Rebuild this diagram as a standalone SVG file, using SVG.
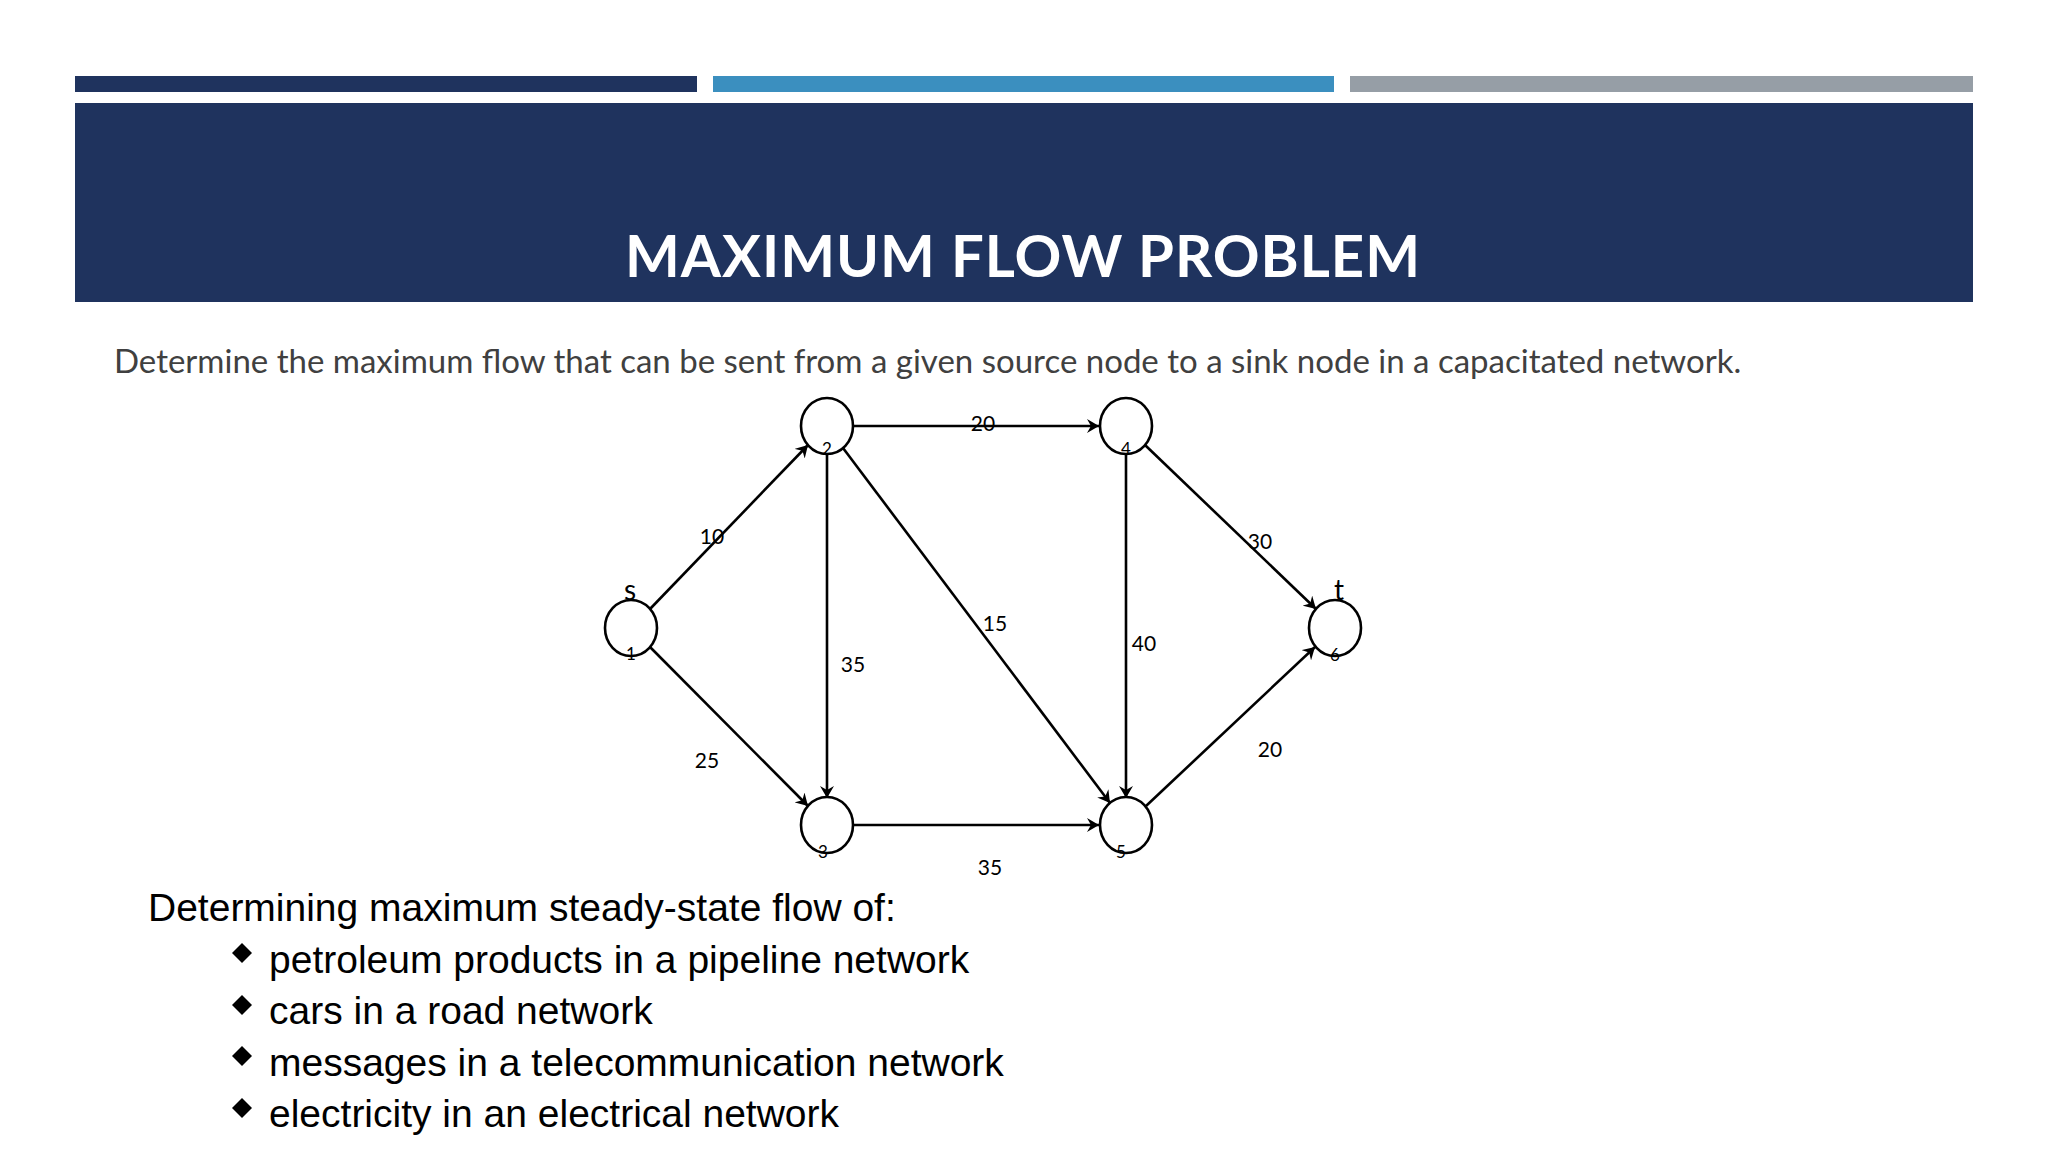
<svg xmlns="http://www.w3.org/2000/svg" width="2048" height="1152" viewBox="0 0 2048 1152">
<style>
.n{fill:#fff;stroke:#000;stroke-width:2.6}
.e{stroke:#000;stroke-width:2.6;fill:none;marker-end:url(#a)}
.l{font-family:Lato,"Liberation Sans",sans-serif;font-size:21px;fill:#000;text-anchor:middle}
.k{font-family:Lato,"Liberation Sans",sans-serif;font-size:17px;fill:#000;text-anchor:middle}
.b{font-family:"Liberation Sans",Arial,sans-serif;font-size:39px;fill:#000}
</style>
<defs><marker id="a" markerWidth="14" markerHeight="14" refX="12" refY="7" orient="auto" markerUnits="userSpaceOnUse"><path d="M0,0 L12,7 L0,14 L4,7 Z" fill="#000"/></marker></defs>
<rect width="2048" height="1152" fill="#fff"/>
<rect x="75" y="76" width="622" height="16" fill="#1f335e"/>
<rect x="713" y="76" width="621" height="16" fill="#3b8fbf"/>
<rect x="1350" y="76" width="623" height="16" fill="#969ea6"/>
<rect x="75" y="103" width="1898" height="199" fill="#1f335e"/>
<text x="1023" y="277" font-family="Lato,'Liberation Sans',sans-serif" font-weight="bold" font-size="58" fill="#fff" text-anchor="middle" letter-spacing="1">MAXIMUM FLOW PROBLEM</text>
<text x="114" y="373" font-family="Lato,'Liberation Sans',sans-serif" font-size="33" fill="#404040">Determine the maximum flow that can be sent from a given source node to a sink node in a capacitated network.</text>
<g id="edges">
<line class="e" x1="650" y1="609" x2="808" y2="445"/>
<line class="e" x1="650" y1="647" x2="808" y2="806"/>
<line class="e" x1="854" y1="426" x2="1099" y2="426"/>
<line class="e" x1="827" y1="453" x2="827" y2="798"/>
<line class="e" x1="843" y1="448" x2="1110" y2="803"/>
<line class="e" x1="1126" y1="453" x2="1126" y2="798"/>
<line class="e" x1="1145" y1="445" x2="1316" y2="609"/>
<line class="e" x1="854" y1="825" x2="1099" y2="825"/>
<line class="e" x1="1146" y1="806" x2="1315" y2="647"/>
<text class="l" x="712" y="544">10</text>
<text class="l" x="707" y="768">25</text>
<text class="l" x="853" y="672">35</text>
<text class="l" x="995" y="631">15</text>
<text class="l" x="983" y="431">20</text>
<text class="l" x="1144" y="651">40</text>
<text class="l" x="1260" y="549">30</text>
<text class="l" x="1270" y="757">20</text>
<text class="l" x="990" y="875">35</text>
</g>
<g id="s"><ellipse class="n" cx="631" cy="628" rx="26" ry="28"/><text class="k" x="631" y="660">1</text><text x="630" y="600" font-family="Lato,sans-serif" font-size="28" text-anchor="middle">s</text></g>
<g id="n2"><ellipse class="n" cx="827" cy="426" rx="26" ry="28"/><text class="k" x="827" y="455">2</text></g>
<g id="n4"><ellipse class="n" cx="1126" cy="426" rx="26" ry="28"/><text class="k" x="1126" y="455">4</text></g>
<g id="n3"><ellipse class="n" cx="827" cy="825" rx="26" ry="28"/><text class="k" x="823" y="858">3</text></g>
<g id="n5"><ellipse class="n" cx="1126" cy="825" rx="26" ry="28"/><text class="k" x="1121" y="858">5</text></g>
<g id="t"><ellipse class="n" cx="1335" cy="628" rx="26" ry="28"/><text class="k" x="1335" y="661">6</text><text x="1339" y="600" font-family="Lato,sans-serif" font-size="28" text-anchor="middle">t</text></g>
<text class="b" x="148" y="921">Determining maximum steady-state flow of:</text>
<g fill="#000">
<path d="M242,943 L252,953 L242,963 L232,953 Z"/>
<path d="M242,995 L252,1005 L242,1015 L232,1005 Z"/>
<path d="M242,1046 L252,1056 L242,1066 L232,1056 Z"/>
<path d="M242,1098 L252,1108 L242,1118 L232,1108 Z"/>
</g>
<text class="b" x="269" y="973">petroleum products in a pipeline network</text>
<text class="b" x="269" y="1024">cars in a road network</text>
<text class="b" x="269" y="1076">messages in a telecommunication network</text>
<text class="b" x="269" y="1127">electricity in an electrical network</text>
</svg>
